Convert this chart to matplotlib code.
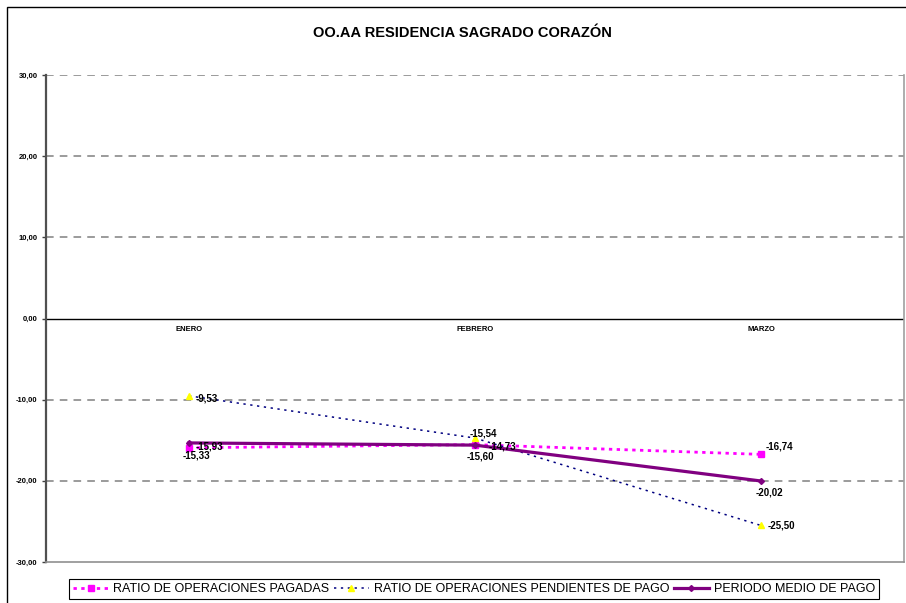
import matplotlib
matplotlib.use('Agg')
import matplotlib.pyplot as plt
from matplotlib.patches import Rectangle

months = ['ENERO', 'FEBRERO', 'MARZO']
pagadas = [-15.93, -15.54, -16.74]
pendientes = [-9.53, -14.73, -25.50]
periodo_medio = [-15.33, -15.60, -20.02]
# data labels as printed on the source chart (Feb labels are swapped there)
pagadas_labels = ['-15,93', '-14,73', '-16,74']
pendientes_labels = ['-9,53', '-15,54', '-25,50']
periodo_labels = ['-15,33', '-15,60', '-20,02']
y_ticks = [-30, -20, -10, 0, 10, 20, 30]

plt.rcParams['font.family'] = ['Liberation Sans', 'DejaVu Sans']

# label offsets in points, roughly where Excel put them
pagadas_off = [(5, 1), (10, -1), (3, 6)]
pendientes_off = [(5, -2), (-4, 3.5), (5, 0)]
periodo_off = [(5, -9), (4, -8), (6, -8)]


def fmt(v):
    return f'{v:.2f}'.replace('.', ',')


fig = plt.figure(figsize=(9.06, 6.03), dpi=100)
ax = fig.add_axes([46 / 906, 1 - 562 / 603, 858 / 906, 487 / 603])

# outer chart border (cut at right/bottom like the source image)
fig.patches.append(Rectangle((7 / 906, -0.1), 1.2, 1.1 - 7 / 603, transform=fig.transFigure,
                             fill=False, edgecolor='black', linewidth=1.0))

fig.text(462 / 906, 1 - 33 / 603, 'OO.AA RESIDENCIA SAGRADO CORAZÓN',
         ha='center', va='center', fontsize=10.5, fontweight='bold')

x = list(range(len(months)))
ax.set_xlim(-0.5, len(months) - 0.5)
ax.set_ylim(-30, 30)

# grid lines
for t in y_ticks:
    if t == 0:
        ax.axhline(t, color='black', lw=1.0, zorder=1)
    elif t == -30:
        continue
    else:
        ax.axhline(t, color='#808080', lw=1.1, linestyle=(0, (5, 4)), zorder=1)

ax.set_yticks(y_ticks)
ax.set_yticklabels([fmt(t) for t in y_ticks], fontsize=5.5, fontweight='bold')
ax.set_xticks([])
ax.tick_params(axis='y', length=3, width=1, color='#404040', pad=3)
ax.spines['left'].set_color('#505050')
ax.spines['left'].set_linewidth(1.6)
ax.spines['bottom'].set_color('#909090')
ax.spines['bottom'].set_linewidth(1.2)
ax.spines['right'].set_color('#a0a0a0')
ax.spines['right'].set_linewidth(1.2)
ax.spines['top'].set_visible(False)

for i, m in enumerate(months):
    ax.annotate(m, (i, 0), xytext=(0, -8), textcoords='offset points',
                ha='center', va='center', fontsize=5.5, fontweight='bold')

ax.plot(x, pagadas, color='#ff00ff', lw=2, linestyle=(0, (1.2, 1.6)),
        marker='s', markersize=4, markeredgecolor='#ff00ff',
        label='RATIO DE OPERACIONES PAGADAS', zorder=3)
ax.plot(x, pendientes, color='#000080', lw=1.1, linestyle=(0, (1.5, 3)),
        marker='^', markersize=4.5, markerfacecolor='#ffff00', markeredgecolor='#ffff00',
        label='RATIO DE OPERACIONES PENDIENTES DE PAGO', zorder=3)
ax.plot(x, periodo_medio, color='#800080', lw=2.3, linestyle='-',
        marker='D', markersize=3, markeredgecolor='#800080',
        label='PERIODO MEDIO DE PAGO', zorder=4)

lab = dict(fontsize=7, fontweight='bold', textcoords='offset points', zorder=5)
for i, (v, t) in enumerate(zip(pagadas, pagadas_labels)):
    ax.annotate(t, (i, v), xytext=pagadas_off[i], ha='left', va='center', **lab)
for i, (v, t) in enumerate(zip(pendientes, pendientes_labels)):
    ax.annotate(t, (i, v), xytext=pendientes_off[i], ha='left', va='center', **lab)
for i, (v, t) in enumerate(zip(periodo_medio, periodo_labels)):
    ax.annotate(t, (i, v), xytext=periodo_off[i], ha='center', va='center', **lab)

leg = fig.legend(loc='center', bbox_to_anchor=(474 / 906, 1 - 589 / 603), ncol=3,
                 prop={'size': 9}, frameon=True, fancybox=False,
                 edgecolor='black', framealpha=1, handlelength=2.8, handletextpad=0.4,
                 columnspacing=0.35, borderpad=0.35, borderaxespad=0)
leg.get_frame().set_linewidth(0.8)

fig.savefig('out.png', dpi=100)
